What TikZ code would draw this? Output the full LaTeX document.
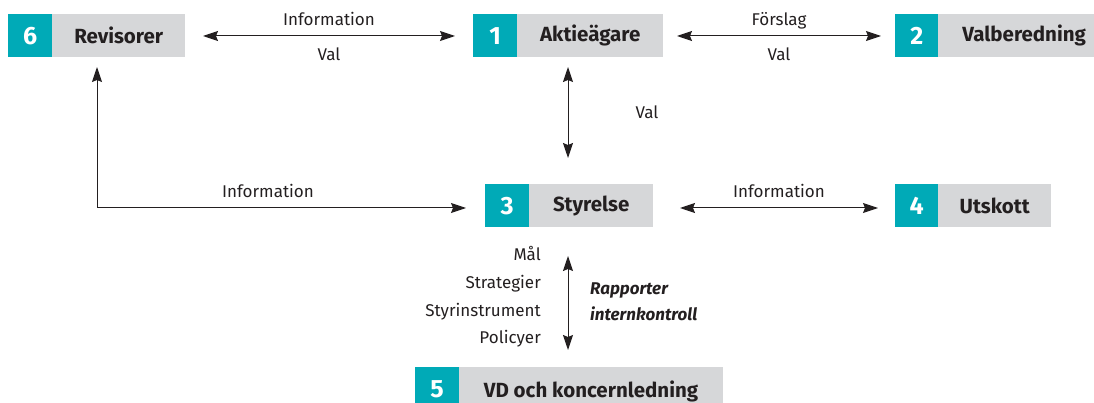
\documentclass[tikz,border=0pt]{standalone}
\usepackage{fontspec}
\setmainfont{Fira Sans}
\usetikzlibrary{arrows.meta}
\definecolor{teal1}{RGB}{0,170,183}
\definecolor{grey1}{RGB}{214,215,217}
\definecolor{ink}{RGB}{35,31,32}
\tikzset{
  numbox/.style={fill=teal1, text=white, font=\fontsize{25}{27}\selectfont\bfseries, minimum width=44pt, minimum height=43pt, inner sep=0pt, anchor=north west},
  labbox/.style={fill=grey1, text=ink, font=\fontsize{20.5}{22}\selectfont\bfseries, minimum height=43pt, inner sep=0pt, anchor=north west},
  lab/.style={text=ink, font=\fontsize{17}{19}\selectfont, inner sep=0pt, anchor=base},
  tip/.tip={Stealth[length=15pt,width=10pt,inset=2pt]},
  conn/.style={draw=ink, line width=1pt, tip-tip},
  conn1/.style={draw=ink, line width=1pt, -tip}
}
\begin{document}
\begin{tikzpicture}[x=1pt,y=-1pt]
\useasboundingbox (0,0) rectangle (1094,403);
% Box 6
\node[numbox] (n6) at (8,14) {6};
\node[labbox, minimum width=133pt] (b6) at (52,14) {Revisorer};
% Box 1
\node[numbox] (n1) at (473,14) {1};
\node[labbox, minimum width=146pt] (b1) at (517,14) {Aktieägare};
% Box 2
\node[numbox, minimum width=43pt] (n2) at (895,14) {2};
\node[labbox, minimum width=156pt] (b2) at (938,14) {\hspace*{16pt}Valberedning};
% Box 3
\node[numbox] (n3) at (485,184) {3};
\node[labbox, minimum width=124pt] (b3) at (529,184) {Styrelse};
% Box 4
\node[numbox, minimum width=43pt] (n4) at (895,184) {4};
\node[labbox, minimum width=113pt] (b4) at (938,184) {Utskott};
% Box 5
\fill[teal1] (415,367) rectangle (459,403);
\fill[grey1] (459,367) rectangle (723,403);
\node[text=white, font=\fontsize{25}{27}\selectfont\bfseries, inner sep=0pt, anchor=base] (n5) at (437,397) {5};
\node[text=ink, font=\fontsize{20.5}{22}\selectfont\bfseries, inner sep=0pt, anchor=base] (b5) at (591,397) {VD och koncernledning};

% connectors
\coordinate (a61l) at (203,36);
\coordinate (a61r) at (455,36);
\draw[conn] (a61l) -- (a61r);
\node[lab] (l61a) at (329,26) {Information};
\node[lab] (l61b) at (329,61) {Val};

\coordinate (a12l) at (677,36);
\coordinate (a12r) at (881,36);
\draw[conn] (a12l) -- (a12r);
\node[lab] (l12a) at (779,26) {Förslag};
\node[lab] (l12b) at (779,61) {Val};

\coordinate (a13t) at (568,67);
\coordinate (a13b) at (568,158);
\draw[conn] (a13t) -- (a13b);
\node[lab] (l13) at (647,119) {Val};

\coordinate (a63s) at (97,208);
\coordinate (a63t) at (97,67);
\coordinate (a63e) at (466,208);
\draw[conn, tip-] (a63t) -- (a63s);
\draw[conn1] (a63s) -- (a63e);
\node[lab] (l63) at (268,198) {Information};

\coordinate (a34l) at (680,208);
\coordinate (a34r) at (878,208);
\draw[conn] (a34l) -- (a34r);
\node[lab] (l34) at (779,198) {Information};

\coordinate (a35t) at (568,256);
\coordinate (a35b) at (568,350);
\draw[conn] (a35t) -- (a35b);
\node[lab, anchor=base east] (m1) at (541,260) {Mål};
\node[lab, anchor=base east] (m2) at (541,288) {Strategier};
\node[lab, anchor=base east] (m3) at (541,316) {Styrinstrument};
\node[lab, anchor=base east] (m4) at (541,343) {Policyer};
\node[lab, anchor=base west, font=\fontsize{17}{19}\selectfont\bfseries\itshape] (r1) at (590,294) {Rapporter};
\node[lab, anchor=base west, font=\fontsize{17}{19}\selectfont\bfseries\itshape] (r2) at (590,320) {internkontroll};
\end{tikzpicture}
\end{document}
